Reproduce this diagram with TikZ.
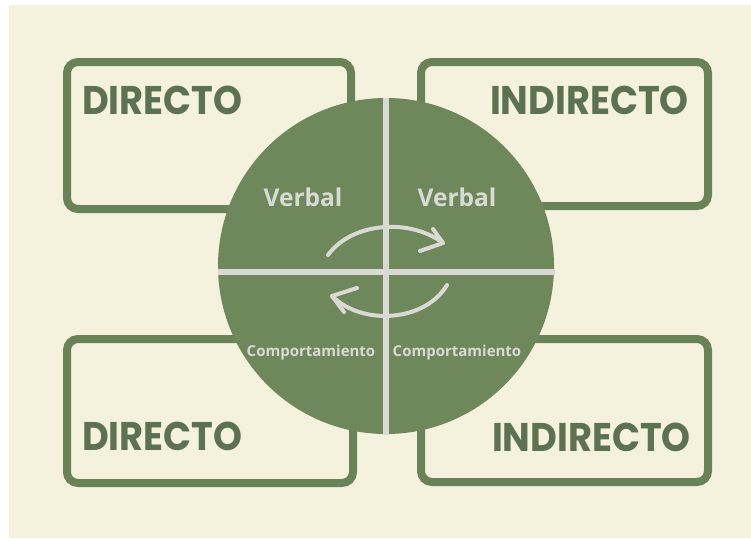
\documentclass[tikz,border=0pt]{standalone}
\usepackage{fontspec}
\newfontfamily\boxfont[FakeStretch=0.92]{Poppins Bold}
\newfontfamily\lblfont{Open Sans Bold}
\definecolor{cream}{HTML}{F4F1DC}
\definecolor{boxgreen}{HTML}{6A8257}
\definecolor{circgreen}{HTML}{6E875B}
\definecolor{txtgreen}{HTML}{5C7250}
\definecolor{lightgray}{HTML}{DADAD5}
\tikzset{
  quadbox/.style={draw=boxgreen, line width=8pt, rounded corners=11pt, fill=cream},
  boxlabel/.style={font=\boxfont\fontsize{40}{40}\selectfont, text=txtgreen, inner sep=0pt},
  verballbl/.style={font=\lblfont\fontsize{24.5}{24}\selectfont, text=lightgray, inner sep=0pt},
  complbl/.style={font=\lblfont\fontsize{15}{15}\selectfont, text=lightgray, inner sep=0pt},
  crossline/.style={draw=lightgray, line width=6.5pt},
  cycarrow/.style={draw=lightgray, line width=4pt, line cap=round, line join=round},
}
\begin{document}
\begin{tikzpicture}[x=1pt,y=-1pt]
\useasboundingbox (0,0) rectangle (751,538);
\fill[white] (0,0) rectangle (751,538);
\fill[cream] (9,5) rectangle (751,538);
% boxes
\draw[quadbox] (67,62) rectangle (351,209);
\draw[quadbox] (421,62) rectangle (708,206);
\draw[quadbox] (67,339) rectangle (353,483);
\draw[quadbox] (421,339) rectangle (708,482);
\node[boxlabel, anchor=west] (dtl) at (82,100) {DIRECTO};
\node[boxlabel, anchor=east] (itr) at (689,100) {INDIRECTO};
\node[boxlabel, anchor=west] (dbl) at (82,436) {DIRECTO};
\node[boxlabel, anchor=east] (ibr) at (691,437) {INDIRECTO};
% circle
\node[circle, fill=circgreen, minimum size=336pt, inner sep=0pt] (circ) at (386,266) {};
\coordinate (vt) at (386,98);
\coordinate (vb) at (386,435);
\coordinate (hl) at (218,272);
\coordinate (hr) at (555,272);
\draw[crossline] (vt) -- (vb);
\draw[crossline] (hl) -- (hr);
% labels
\node[verballbl] (v1) at (303,197) {Verbal};
\node[verballbl] (v2) at (457,197) {Verbal};
\node[complbl] (c1) at (311,353) {Comportamiento};
\node[complbl] (c2) at (457,353) {Comportamiento};
% cycle arrows
\coordinate (a1s) at (328,255);
\coordinate (a1t) at (443,243);
\coordinate (a2s) at (447,285);
\coordinate (a2t) at (332,296);
\draw[cycarrow] (a1s) .. controls (352,222) and (410,218) .. (a1t);
\draw[cycarrow] (433,229) -- (a1t) -- (420,251);
\draw[cycarrow] (a2s) .. controls (425,322) and (362,326) .. (a2t);
\draw[cycarrow] (357,288) -- (a2t) -- (344,312);
\end{tikzpicture}
\end{document}
